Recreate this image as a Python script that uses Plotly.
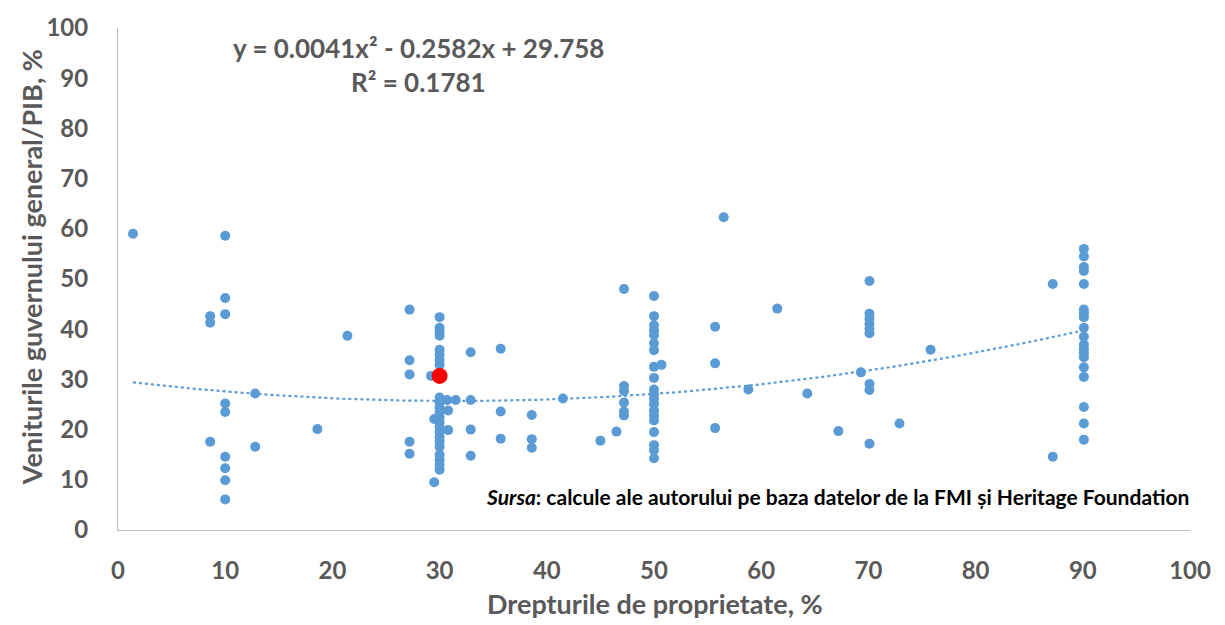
import numpy as np
import plotly.graph_objects as go

# Property rights score (x) and general government revenue, % of GDP (y)
rights = [
    1.4,
    10.0, 10.0, 10.0, 10.0, 10.0, 10.0, 10.0, 10.0, 10.0,
    8.6, 8.6, 8.6,
    12.8, 12.8, 18.6, 21.4,
    27.2, 27.2, 27.2, 27.2, 27.2,
    29.2, 29.5, 29.5,
    30.0, 30.0, 30.0, 30.0, 30.0, 30.0, 30.0, 30.0,
    30.0, 30.0, 30.0, 30.0, 30.0, 30.0, 30.0, 30.0,
    30.0, 30.0, 30.0, 30.0, 30.0, 30.0, 30.0, 30.0,
    30.7, 31.5, 30.8, 30.8,
    32.9, 32.9, 32.9, 32.9,
    35.7, 35.7, 35.7,
    38.6, 38.6, 38.6,
    41.5, 45.0, 46.5,
    47.2, 47.2, 47.2, 47.2, 47.2, 47.2,
    50.0, 50.0, 50.0, 50.0, 50.0, 50.0, 50.0, 50.0, 50.0, 50.0,
    50.0, 50.0, 50.0, 50.0, 50.0, 50.0, 50.0, 50.0, 50.0, 50.0,
    50.7,
    55.7, 55.7, 55.7, 56.5, 58.8, 61.5, 64.3, 67.2, 69.3,
    70.1, 70.1, 70.1, 70.1, 70.1, 70.1, 70.1, 70.1, 70.1,
    72.9, 75.8, 87.2, 87.2,
    90.1, 90.1, 90.1, 90.1, 90.1, 90.1, 90.1, 90.1, 90.1, 90.1,
    90.1, 90.1, 90.1, 90.1, 90.1, 90.1, 90.1, 90.1, 90.1,
]
revenue = [
    59.0,
    58.6, 46.2, 43.0, 25.2, 23.5, 14.6, 12.3, 9.9, 6.1,
    42.6, 41.3, 17.6,
    27.2, 16.6, 20.1, 38.7,
    43.9, 33.8, 31.0, 17.6, 15.2,
    30.7, 22.1, 9.5,
    42.4, 40.3, 39.5, 38.7, 35.9, 34.9, 33.9, 32.9,
    26.4, 25.4, 24.4, 23.5, 22.5, 21.5, 20.5, 19.5,
    18.5, 17.6, 16.6, 15.0, 14.0, 13.0, 12.0, 30.8,
    25.9, 25.9, 23.8, 19.9,
    35.4, 25.9, 20.0, 14.8,
    36.1, 23.6, 18.2,
    22.9, 18.1, 16.4,
    26.2, 17.8, 19.6,
    48.0, 28.7, 27.7, 25.4, 23.6, 22.8,
    46.6, 42.6, 40.8, 39.8, 38.8, 37.2, 35.8, 32.5, 30.3, 28.0,
    27.0, 26.1, 25.1, 23.8, 22.8, 21.8, 19.5, 16.9, 15.9, 14.3,
    32.9,
    40.5, 33.2, 20.3, 62.3, 28.0, 44.1, 27.2, 19.7, 31.4,
    49.6, 43.1, 42.1, 41.1, 40.1, 39.2, 29.1, 27.9, 17.2,
    21.2, 35.9, 49.0, 14.6,
    56.0, 54.5, 52.4, 51.6, 49.0, 43.9, 43.2, 42.4, 40.3, 38.5,
    36.9, 36.0, 35.2, 34.4, 32.4, 30.5, 24.5, 21.2, 18.0,
]

# Highlighted country
focus_x = [30.0]
focus_y = [30.7]

# Polynomial trend (order 2) coefficients and its fit statistic
trend_coef = [0.0041, -0.2582, 29.758]
trend_r2 = 0.1781

x_ticks = list(range(0, 101, 10))
y_ticks = list(range(0, 101, 10))

BLUE = "#5B9BD5"
GREY = "#595959"
FONT = "Lato"

tx = np.linspace(min(rights), max(rights), 200)
ty = np.polyval(trend_coef, tx)

fig = go.Figure()
fig.add_trace(go.Scatter(
    x=tx, y=ty, mode="lines",
    line=dict(color=BLUE, width=2.2, dash="dot"),
    hoverinfo="skip", showlegend=False,
))
fig.add_trace(go.Scatter(
    x=rights, y=revenue, mode="markers",
    marker=dict(color=BLUE, size=10, line=dict(width=0)),
    showlegend=False,
))
fig.add_trace(go.Scatter(
    x=focus_x, y=focus_y, mode="markers",
    marker=dict(color="#FF0000", size=16, line=dict(width=0)),
    showlegend=False,
))

axis_common = dict(
    showgrid=False, zeroline=False, showline=True,
    linecolor="#BFBFBF", linewidth=1, ticks="",
    tickfont=dict(family=FONT, size=24, color=GREY, weight="bold"),
)
fig.update_xaxes(range=[0, 100], tickvals=x_ticks, ticklabelstandoff=19, **axis_common)
fig.update_yaxes(range=[0, 100], tickvals=y_ticks, ticklabelstandoff=24, **axis_common)

a2, a1, a0 = trend_coef
eq_text = f"y = {a2}x² - {abs(a1)}x + {a0}"
r2_text = f"R² = {trend_r2}"

W, H = 1225, 625
L, R, T, B = 118, 35, 20, 95
pw, ph = W - L - R, H - T - B


def px(xpix):
    return (xpix - L) / pw


def py(ypix):
    return (H - B - ypix) / ph


annotations = [
    dict(text=eq_text, x=px(418), y=py(40), xref="paper", yref="paper",
         xanchor="center", yanchor="middle", showarrow=False,
         font=dict(family=FONT, size=26, color=GREY, weight="bold")),
    dict(text=r2_text, x=px(418), y=py(75), xref="paper", yref="paper",
         xanchor="center", yanchor="middle", showarrow=False,
         font=dict(family=FONT, size=26, color=GREY, weight="bold")),
    dict(text="<i>Sursa</i>: calcule ale autorului pe baza datelor de la FMI și Heritage Foundation",
         x=px(1191), y=py(496), xref="paper", yref="paper",
         xanchor="right", yanchor="middle", showarrow=False,
         font=dict(family=FONT, size=21, color="#000000", weight="bold")),
    dict(text="Drepturile de proprietate, %", x=px(655), y=py(605),
         xref="paper", yref="paper", xanchor="center", yanchor="middle",
         showarrow=False, font=dict(family=FONT, size=27, color=GREY, weight="bold")),
    dict(text="Veniturile guvernului general/PIB, %", x=px(31), y=py(263),
         xref="paper", yref="paper", xanchor="center", yanchor="middle",
         textangle=-90, showarrow=False,
         font=dict(family=FONT, size=27, color=GREY, weight="bold")),
]

fig.update_layout(
    width=W, height=H,
    margin=dict(l=L, r=R, t=T, b=B),
    paper_bgcolor="white", plot_bgcolor="white",
    annotations=annotations,
    showlegend=False,
)

fig.write_html("out.html")
